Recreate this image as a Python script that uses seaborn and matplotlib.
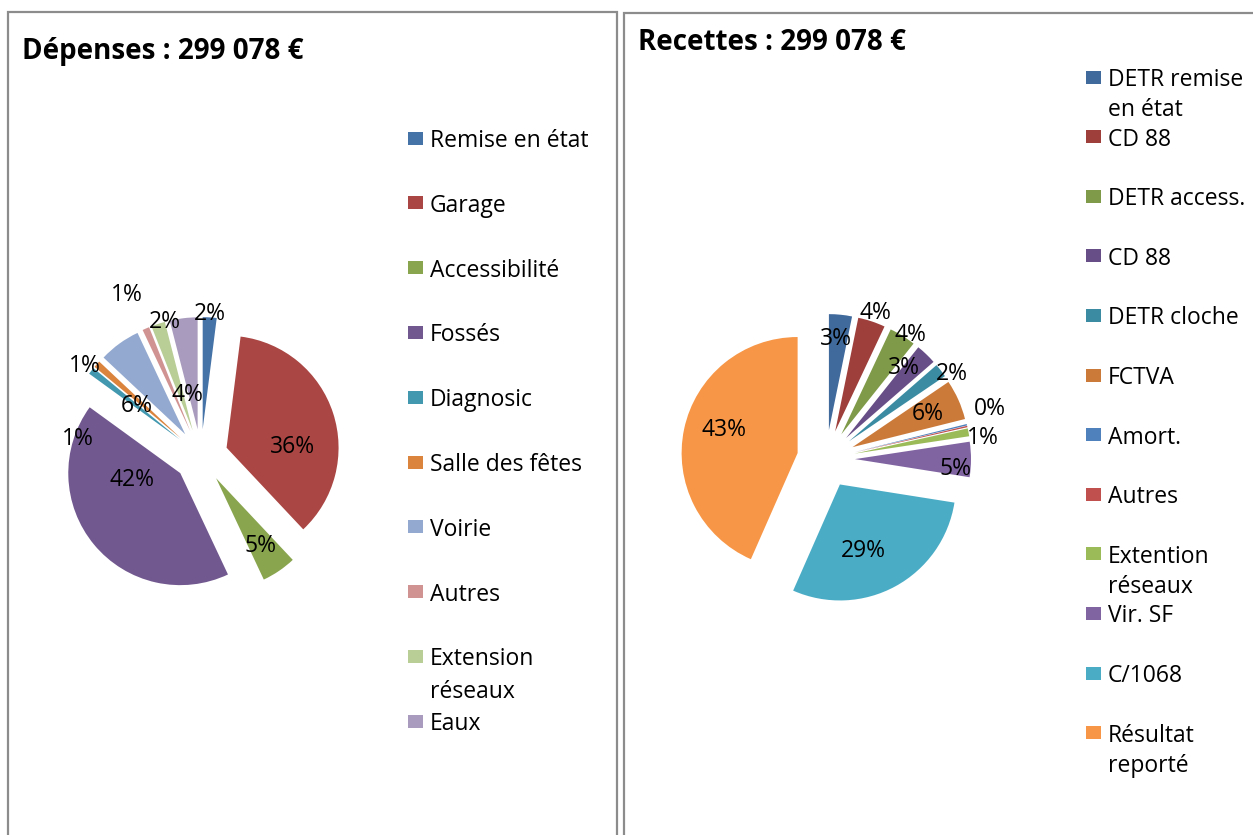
import matplotlib
matplotlib.use("Agg")
import matplotlib.pyplot as plt
from matplotlib.patches import Rectangle
import numpy as np
import seaborn as sns

# --- data -------------------------------------------------------------
dep_labels = ["Remise en état", "Garage", "Accessibilité", "Fossés", "Diagnosic",
              "Salle des fêtes", "Voirie", "Autres", "Extension\nréseaux", "Eaux"]
dep_values = [2, 36, 5, 42, 1, 1, 6, 1, 2, 4]
dep_pct = ["2%", "36%", "5%", "42%", "1%", "1%", "6%", "1%", "2%", "4%"]

rec_labels = ["DETR remise\nen état", "CD 88", "DETR access.", "CD 88", "DETR cloche",
              "FCTVA", "Amort.", "Autres", "Extention\nréseaux", "Vir. SF", "C/1068",
              "Résultat\nreporté"]
rec_values = [3.2, 3.8, 3.7, 2.9, 1.9, 5.6, 0.2, 0.2, 1.1, 4.9, 29.1, 43.4]
rec_pct = ["3%", "4%", "4%", "3%", "2%", "6%", "0%", "", "1%", "5%", "29%", "43%"]

dep_colors = ["#4572A7", "#AA4643", "#89A54E", "#71588F", "#4198AF",
              "#DB843D", "#93A9CF", "#D19392", "#B9CD96", "#A99BBD"]
rec_colors = ["#40699C", "#9E3F3C", "#7F9A48", "#684E86", "#3B8CA3", "#CB7A3A",
              "#4F81BD", "#C0504D", "#9BBB59", "#8064A2", "#4BACC6", "#F79646"]

# label placement (radius in pie radii, angular offset in degrees)
dep_lab_r = [1.29, 0.82, 0.95, 0.65, 1.11, 1.32, 0.74, 1.6, 1.26, 0.58]
dep_lab_off = [0, -11, 0, -22, 29, 3, 15, 1, -3, 5]
rec_lab_r = [1.06, 1.35, 1.31, 1.05, 1.32, 0.97, 1.48, 1.0, 1.37, 1.12, 0.84, 0.92]
rec_lab_off = [1, 0, -2, 4, -3, 1, 4, 0, -2, -3, -6, -5]

W, H = 1253, 835
FS = 16.5

sns.set_theme(style="white")
plt.rcParams['font.family'] = ['Open Sans', 'DejaVu Sans']
plt.rcParams['text.color'] = 'black'

fig = plt.figure(figsize=(W / 100, H / 100), dpi=100)
fig.patch.set_facecolor("white")


def px_axes(cx, cy, r_px, lim=1.8):
    # square axes centred on pixel (cx, cy), one data unit = r_px pixels
    half = r_px * lim
    ax = fig.add_axes([(cx - half) / W, (H - cy - half) / H, 2 * half / W, 2 * half / H])
    ax.axis("off")
    return ax


def draw_pie(cx, cy, r_px, values, colors, pct, lab_r, lab_off, explode):
    ax = px_axes(cx, cy, r_px)
    wedges, _ = ax.pie(values, colors=colors, startangle=90, counterclock=False,
                       explode=[explode] * len(values), radius=1,
                       wedgeprops=dict(linewidth=0))
    for w, txt, r, off in zip(wedges, pct, lab_r, lab_off):
        if not txt:
            continue
        a = np.deg2rad((w.theta1 + w.theta2) / 2 + off)
        ax.text(r * np.cos(a), r * np.sin(a) - 0.02, txt, ha="center", va="center",
                fontsize=FS, color="black")
    ax.set_xlim(-1.8, 1.8)
    ax.set_ylim(-1.8, 1.8)


def draw_legend(labels, colors, x_sq, y0, step, line_step):
    for i, (lab, col) in enumerate(zip(labels, colors)):
        y = y0 + i * step
        fig.add_artist(Rectangle((x_sq / W, (H - y - 6.5) / H), 15 / W, 13 / H,
                                 transform=fig.transFigure, facecolor=col, edgecolor="none"))
        # wrapped labels run down into the gap, like the office legend
        for k, part in enumerate(lab.split("\n")):
            fig.text((x_sq + 22) / W, (H - y - 3 - k * line_step) / H, part, ha="left",
                     va="center", fontsize=FS, color="black")


def panel(x0, x1, y0):
    fig.add_artist(Rectangle((x0 / W, -0.05), (x1 - x0) / W, (H - y0) / H + 0.05,
                             transform=fig.transFigure, fill=False,
                             edgecolor="#8c8c8c", linewidth=1.6))


# left panel : dépenses
panel(8, 617, 12)
fig.text(22 / W, (H - 51) / H, "Dépenses : 299 078 €", fontsize=20, fontweight="bold",
         ha="left", va="center")
draw_pie(201, 456, 112, dep_values, dep_colors, dep_pct, dep_lab_r, dep_lab_off, 0.24)
draw_legend(dep_labels, dep_colors, 408, 138, 64.8, 33)

# right panel : recettes
panel(624, 1265, 13)
fig.text(638 / W, (H - 42) / H, "Recettes : 299 078 €", fontsize=20, fontweight="bold",
         ha="left", va="center")
draw_pie(826, 459, 116, rec_values, rec_colors, rec_pct, rec_lab_r, rec_lab_off, 0.25)
draw_legend(rec_labels, rec_colors, 1086, 77, 59.6, 30)

fig.savefig("out.png", dpi=100, facecolor="white")
